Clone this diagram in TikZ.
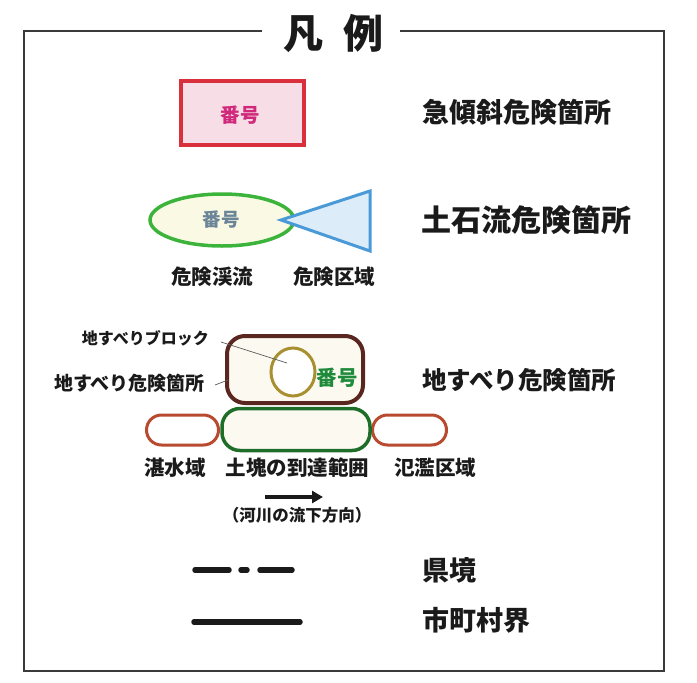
\documentclass[tikz,border=0pt]{standalone}
\usepackage{fontspec}
\setmainfont{Noto Sans CJK JP}
\usetikzlibrary{shapes.geometric,arrows.meta}
\definecolor{frameC}{HTML}{3A3A3A}
\definecolor{pinkF}{HTML}{F7DDE6}
\definecolor{redB}{HTML}{D8303C}
\definecolor{magT}{HTML}{D0287A}
\definecolor{grnB}{HTML}{3CB43C}
\definecolor{yelF}{HTML}{FAFAE4}
\definecolor{blueB}{HTML}{4A9AD8}
\definecolor{blueF}{HTML}{DCECF8}
\definecolor{grayT}{HTML}{6A8498}
\definecolor{brnB}{HTML}{5A2620}
\definecolor{creamF}{HTML}{FCFAF0}
\definecolor{oliveB}{HTML}{A89030}
\definecolor{grnT}{HTML}{1E8A3A}
\definecolor{dgrnB}{HTML}{1E6E2A}
\definecolor{rustB}{HTML}{B84A30}
\definecolor{txt}{HTML}{1A1A1A}
\tikzset{
  lbl/.style={inner sep=0pt, text=txt, font=\bfseries\fontsize{#1}{#1}\selectfont},
  mainlbl/.style={lbl=#1, anchor=west},
  leader/.style={draw=gray!70!black, line width=0.7pt},
  pill/.style={rectangle, draw=rustB, fill=white, line width=3pt, rounded corners=15pt, minimum width=72pt, minimum height=30pt, inner sep=0pt},
  legline/.style={line width=5.5pt, line cap=round, draw=txt}
}
\begin{document}
\begin{tikzpicture}[x=1pt,y=-1pt]
\useasboundingbox (0,0) rectangle (697,683);
% frame
\coordinate (tl) at (24,31);
\coordinate (tr) at (664,31);
\coordinate (bl) at (24,671);
\coordinate (br) at (664,671);
\coordinate (gapL) at (262,31);
\coordinate (gapR) at (400,31);
\draw[frameC, line width=1.6pt] (gapL) -- (tl) -- (bl) -- (br) -- (tr) -- (gapR);
\node[lbl=40] (title) at (333,33) {凡\hspace{0.5em}例};

% steep slope
\node[rectangle, draw=redB, fill=pinkF, line width=4pt, minimum width=123pt, minimum height=64pt, inner sep=0pt] (steep) at (242.5,113) {};
\node[lbl=19.5, text=magT] (steepnum) at (240,115) {番号};
\node[mainlbl=27] (steeplbl) at (422,112) {急傾斜危険箇所};

% debris flow
\node[ellipse, draw=grnB, fill=yelF, line width=3.5pt, minimum width=144pt, minimum height=52pt, inner sep=0pt] (stream) at (222,220) {};
\coordinate (apex) at (281,220);
\coordinate (tri1) at (370,191);
\coordinate (tri2) at (370,251);
\filldraw[draw=blueB, fill=blueF, line width=3pt, line join=miter] (apex) -- (tri1) -- (tri2) -- cycle;
\node[lbl=18.5, text=grayT] (streamnum) at (221,220) {番号};
\node[lbl=20.5] (streamlbl) at (212,277) {危険渓流};
\node[lbl=20.5] (zonelbl) at (334,277) {危険区域};
\node[mainlbl=30] (debrislbl) at (421,220) {土石流危険箇所};

% landslide
\node[pill] (pond) at (182.5,430) {};
\node[pill, minimum width=74pt] (flood) at (409.5,430) {};
\node[rectangle, draw=dgrnB, fill=creamF, line width=3.5pt, rounded corners=18pt, minimum width=148pt, minimum height=42pt, inner sep=0pt] (reach) at (296,429.5) {};
\node[rectangle, draw=brnB, fill=creamF, line width=4pt, rounded corners=18pt, minimum width=136pt, minimum height=67pt, inner sep=0pt] (slide) at (295,369.5) {};
\node[ellipse, draw=oliveB, fill=white, line width=3pt, minimum width=44pt, minimum height=48pt, inner sep=0pt] (block) at (293,372) {};
\node[lbl=20.5, text=grnT] (slidenum) at (337,378) {番号};
\node[lbl=16, anchor=east] (blocklbl) at (209,338) {地すべりブロック};
\node[lbl=19, anchor=east] (arealbl) at (205,383) {地すべり危険箇所};
\coordinate (l1a) at (221,342);
\coordinate (l1b) at (287,363);
\coordinate (l2a) at (215,385);
\coordinate (l2b) at (228,380);
\draw[leader] (l1a) -- (l1b);
\draw[leader] (l2a) -- (l2b);
\node[mainlbl=24.5] (slidelbl) at (422,380) {地すべり危険箇所};
\node[lbl=20.5] (pondlbl) at (175,468) {湛水域};
\node[lbl=20.5] (reachlbl) at (297.5,468) {土塊の到達範囲};
\node[lbl=20.5] (floodlbl) at (435,468) {氾濫区域};
\coordinate (arrA) at (265,497);
\coordinate (arrB) at (323,497);
\draw[txt, line width=4pt, -{Triangle[length=11pt,width=12pt]}] (arrA) -- (arrB);
\node[lbl=16.5] (riverlbl) at (297,515) {（河川の流下方向）};

% boundaries
\coordinate (p1) at (195,570);
\coordinate (p2) at (292,570);
\draw[legline, dash pattern=on 34pt off 12pt on 6pt off 13pt on 40pt] (p1) -- (p2);
\node[mainlbl=27] (preflbl) at (422,570) {県境};
\coordinate (m1) at (194,622);
\coordinate (m2) at (300,622);
\draw[legline] (m1) -- (m2);
\node[mainlbl=27] (munilbl) at (422,620) {市町村界};
\end{tikzpicture}
\end{document}
